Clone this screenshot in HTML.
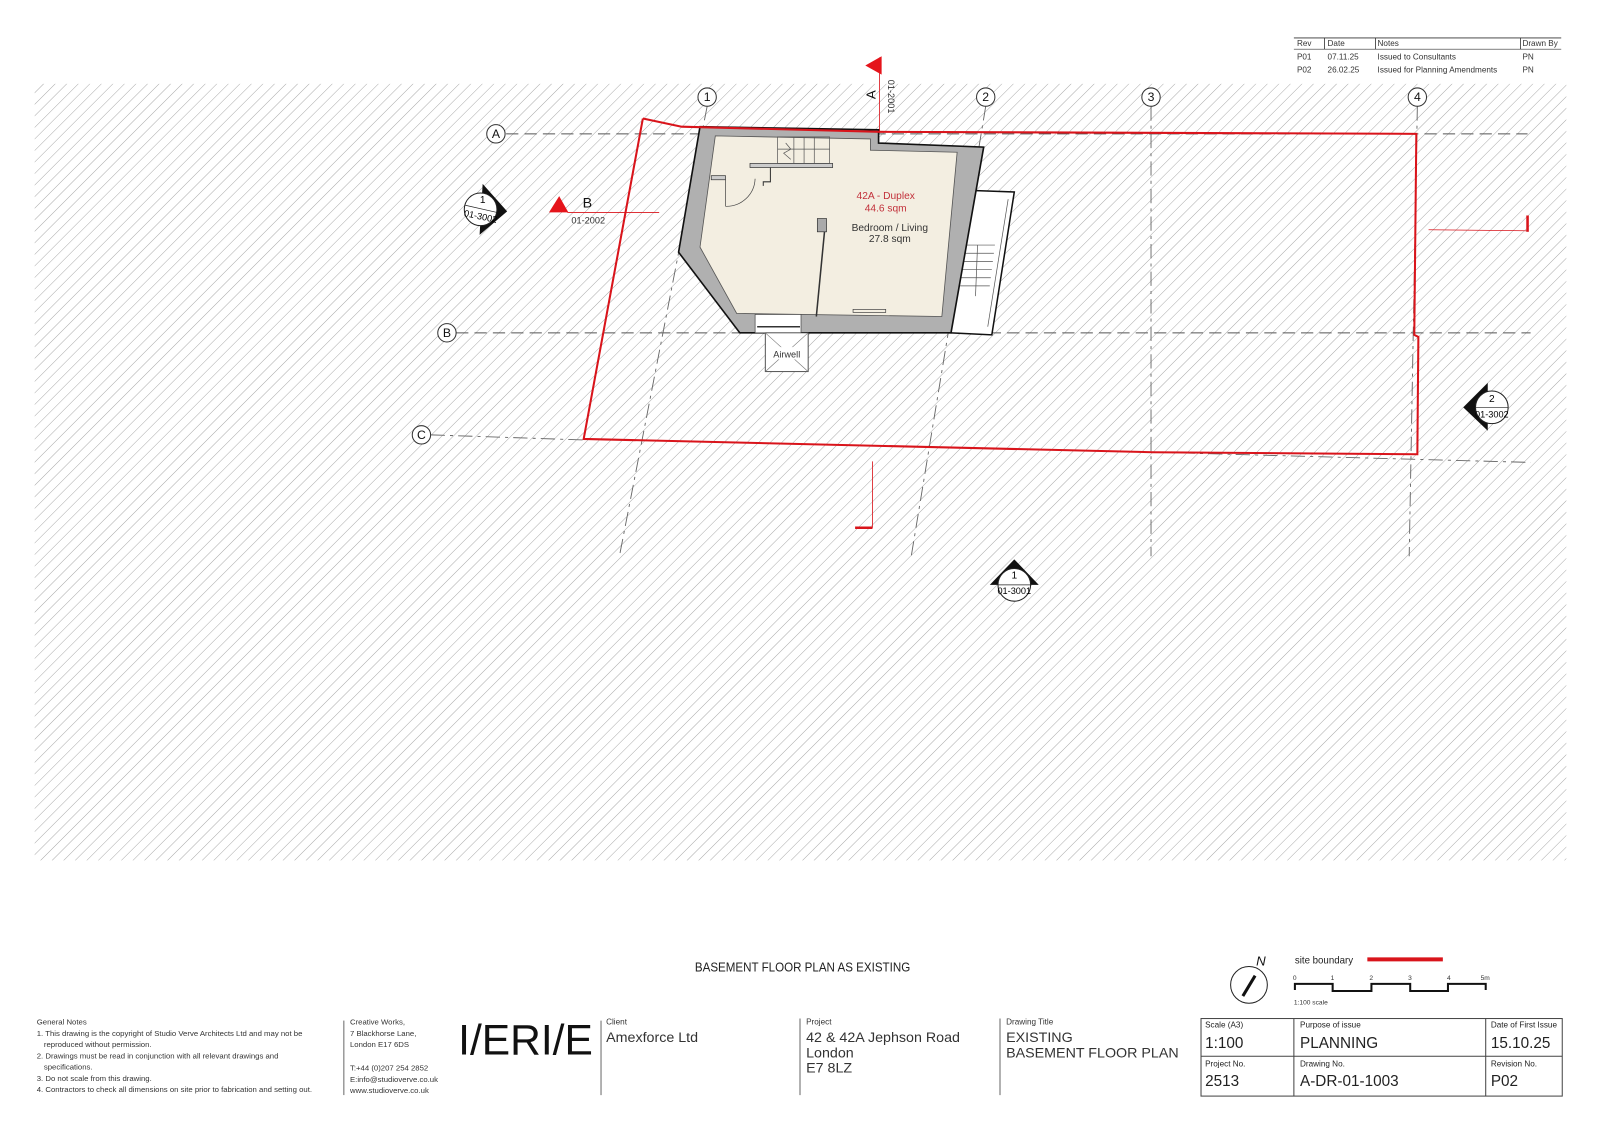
<!DOCTYPE html>
<html><head><meta charset="utf-8"><style>
html,body{margin:0;padding:0;background:#fff;}
svg{display:block;}
text{font-family:"Liberation Sans",sans-serif;}
.n{font-family:"Liberation Sans Narrow","Liberation Sans",sans-serif;}
</style></head><body>
<svg width="1600" height="1133" viewBox="0 0 1568 1110" xmlns="http://www.w3.org/2000/svg">
<defs>
<pattern id="h" width="8" height="8" patternUnits="userSpaceOnUse" patternTransform="rotate(45)">
<line x1="0" y1="0" x2="0" y2="8" stroke="#a2a2a2" stroke-width="0.9"/>
</pattern>
<clipPath id="c"><rect x="34" y="82" width="1501" height="761"/></clipPath>
</defs>
<rect x="34" y="82" width="1501" height="761" fill="url(#h)"/>

<g clip-path="url(#c)">
<g stroke="#555" stroke-width="1" stroke-dasharray="12,6" fill="none">
<line x1="496" y1="131" x2="1497" y2="131"/>
<line x1="447" y1="326" x2="1500" y2="326"/>
</g>
<g stroke="#666" stroke-width="0.9" stroke-dasharray="14,5,3,5" fill="none">
<line x1="422" y1="426" x2="572" y2="431"/>
<line x1="1130" y1="443" x2="1500" y2="453"/>
<line x1="693" y1="104" x2="607" y2="545"/>
<line x1="966" y1="104" x2="893" y2="545"/>
<line x1="1128" y1="104" x2="1128" y2="545"/>
<line x1="1389" y1="104" x2="1381" y2="545"/>
</g>
</g>
<g fill="#fff" stroke="#333" stroke-width="1">
<circle cx="693" cy="95" r="9"/><circle cx="966" cy="95" r="9"/><circle cx="1128" cy="95" r="9"/><circle cx="1389" cy="95" r="9"/>
<circle cx="486" cy="131" r="9"/><circle cx="438" cy="326" r="9"/><circle cx="413" cy="426" r="9"/>
</g>
<g font-size="12" text-anchor="middle" fill="#111">
<text x="693" y="99">1</text><text x="966" y="99">2</text><text x="1128" y="99">3</text><text x="1389" y="99">4</text>
<text x="486" y="135">A</text><text x="438" y="330">B</text><text x="413" y="430">C</text>
</g>

<polygon points="940,186 994,188 972,328 930,326" fill="#fff" stroke="#111" stroke-width="1.5"/>
<g stroke="#555" stroke-width="0.7" fill="none">
<line x1="988" y1="195" x2="968" y2="320"/>
<line x1="946" y1="240" x2="975" y2="240"/><line x1="945" y1="248" x2="974" y2="248"/><line x1="944" y1="256" x2="973" y2="256"/>
<line x1="943" y1="264" x2="972" y2="264"/><line x1="942" y1="272" x2="971" y2="272"/><line x1="941" y1="280" x2="970" y2="280"/>
<line x1="958" y1="240" x2="956" y2="290"/>
</g>
<polygon points="686,124 861,127 861,140 964,144 932,326 725,326 665,247" fill="#b0b0b0" stroke="#111" stroke-width="1.6"/>
<polygon points="701,133 853,136 853,147 938,149 923,310 722,307 686,242" fill="#f3eee1" stroke="#555" stroke-width="0.8"/>
<rect x="740" y="308" width="45" height="18" fill="#fff" stroke="#444" stroke-width="0.7"/>
<line x1="742" y1="320" x2="784" y2="320" stroke="#333" stroke-width="1.5"/>
<g stroke="#555" stroke-width="0.7" fill="none">
<rect x="762" y="134" width="51" height="26"/>
<line x1="778" y1="134" x2="778" y2="160"/><line x1="788" y1="134" x2="788" y2="160"/><line x1="798" y1="134" x2="798" y2="160"/>
<line x1="762" y1="146" x2="813" y2="146"/>
<polyline points="770,140 775,146 768,150 775,156"/>
</g>
<rect x="735" y="160" width="81" height="4" fill="#ccc" stroke="#333" stroke-width="0.7"/>
<polyline points="755,164 755,178 748,178 748,182" fill="none" stroke="#333" stroke-width="1"/>
<rect x="697" y="172" width="14" height="4" fill="#ccc" stroke="#333" stroke-width="0.7"/>
<path d="M711 202 A28 28 0 0 0 740 175" fill="none" stroke="#444" stroke-width="0.7"/>
<line x1="711" y1="176" x2="711" y2="202" stroke="#444" stroke-width="0.7"/>
<rect x="801" y="214" width="9" height="13" fill="#aaa" stroke="#333" stroke-width="0.7"/>
<line x1="808" y1="227" x2="800" y2="310" stroke="#333" stroke-width="1.5"/>
<rect x="836" y="303" width="32" height="3" fill="none" stroke="#444" stroke-width="0.7"/>
<rect x="750" y="326" width="42" height="38" fill="#fff" stroke="#444" stroke-width="0.9"/>
<line x1="750" y1="326" x2="792" y2="364" stroke="#777" stroke-width="0.6"/>
<line x1="792" y1="326" x2="750" y2="364" stroke="#777" stroke-width="0.6"/>
<rect x="756" y="340" width="30" height="12" fill="#fff"/>
<text class="n" x="771" y="350" font-size="9" text-anchor="middle" fill="#333">Airwell</text>

<text class="n" x="868" y="195" font-size="10" text-anchor="middle" fill="#c2303a">42A - Duplex</text>
<text class="n" x="868" y="207" font-size="10" text-anchor="middle" fill="#c2303a">44.6 sqm</text>
<text class="n" x="872" y="226" font-size="10" text-anchor="middle" fill="#333">Bedroom / Living</text>
<text class="n" x="872" y="237" font-size="10" text-anchor="middle" fill="#333">27.8 sqm</text>

<polyline points="630,116 668,124 862,129 1388,131 1386,328 1390,330 1389,445 1130,443 572,430 630,116" fill="none" stroke="#d9141b" stroke-width="2"/>

<line x1="862" y1="56" x2="862" y2="130" stroke="#d9141b" stroke-width="0.8"/>
<polygon points="848,64 864,55 864,73" fill="#e5141b"/>
<text x="858" y="97" font-size="13" transform="rotate(-90 858 97)" fill="#111">A</text>
<text class="n" x="870" y="78" font-size="9" transform="rotate(90 870 78)" fill="#333">01-2001</text>
<line x1="556" y1="208" x2="646" y2="208" stroke="#d9141b" stroke-width="0.8"/>
<polygon points="538,208 548,192 557,208" fill="#e5141b"/>
<text x="571" y="203" font-size="14" fill="#111">B</text>
<text class="n" x="560" y="219" font-size="9" fill="#333">01-2002</text>
<line x1="1400" y1="225" x2="1497" y2="226" stroke="#d9141b" stroke-width="0.8"/>
<line x1="1497" y1="211" x2="1497" y2="227" stroke="#d9141b" stroke-width="2.5"/>
<line x1="855" y1="452" x2="855" y2="517" stroke="#d9141b" stroke-width="0.8"/>
<line x1="838" y1="517" x2="855" y2="517" stroke="#d9141b" stroke-width="2.5"/>

<g>
<polygon points="473,180 497,207 470,230" fill="#111"/>
<circle cx="471" cy="205" r="16" fill="#fff" stroke="#222" stroke-width="1"/>
<line x1="456" y1="201" x2="487" y2="208" stroke="#222" stroke-width="0.7"/>
<text class="n" x="473" y="199" font-size="10" text-anchor="middle">1</text>
<text class="n" x="471" y="215" font-size="9" text-anchor="middle" transform="rotate(12 471 212)">01-3002</text>
</g>
<g>
<polygon points="1458,375 1434,399 1458,422" fill="#111"/>
<circle cx="1462" cy="399" r="16" fill="#fff" stroke="#222" stroke-width="1"/>
<line x1="1446" y1="399" x2="1478" y2="399" stroke="#222" stroke-width="0.7"/>
<text class="n" x="1462" y="394" font-size="10" text-anchor="middle">2</text>
<text class="n" x="1462" y="409" font-size="9" text-anchor="middle">01-3002</text>
</g>
<g>
<polygon points="970,573 994,548 1018,573" fill="#111"/>
<circle cx="994" cy="573" r="16" fill="#fff" stroke="#222" stroke-width="1"/>
<line x1="978" y1="573" x2="1010" y2="573" stroke="#222" stroke-width="0.7"/>
<text class="n" x="994" y="567" font-size="10" text-anchor="middle">1</text>
<text class="n" x="994" y="582" font-size="9" text-anchor="middle">01-3001</text>
</g>

<g font-size="8" fill="#333">
<line x1="1268" y1="37" x2="1530" y2="37" stroke="#333" stroke-width="0.8"/>
<line x1="1268" y1="48" x2="1530" y2="48" stroke="#333" stroke-width="0.6"/>
<line x1="1298" y1="37" x2="1298" y2="48" stroke="#333" stroke-width="0.8"/>
<line x1="1348" y1="37" x2="1348" y2="48" stroke="#333" stroke-width="0.8"/>
<line x1="1490" y1="37" x2="1490" y2="48" stroke="#333" stroke-width="0.8"/>
<text x="1271" y="45">Rev</text><text x="1301" y="45">Date</text><text x="1350" y="45">Notes</text><text x="1492" y="45">Drawn By</text>
<text x="1271" y="58">P01</text><text x="1301" y="58">07.11.25</text><text x="1350" y="58">Issued to Consultants</text><text x="1492" y="58">PN</text>
<text x="1271" y="71">P02</text><text x="1301" y="71">26.02.25</text><text x="1350" y="71">Issued for Planning Amendments</text><text x="1492" y="71">PN</text>
</g>

<text class="n" x="681" y="952" font-size="13" fill="#222" textLength="211" lengthAdjust="spacingAndGlyphs">BASEMENT FLOOR PLAN AS EXISTING</text>

<circle cx="1224" cy="965" r="18" fill="none" stroke="#222" stroke-width="1"/>
<line x1="1218" y1="976" x2="1230" y2="956" stroke="#111" stroke-width="3"/>
<text x="1231" y="946" font-size="13" font-style="italic" fill="#111">N</text>
<text x="1269" y="944" font-size="9.5" fill="#222">site boundary</text>
<line x1="1340" y1="940" x2="1414" y2="940" stroke="#d9141b" stroke-width="4"/>
<g font-size="6.5" fill="#333">
<text x="1267" y="960">0</text><text x="1304" y="960">1</text><text x="1342" y="960">2</text><text x="1380" y="960">3</text><text x="1418" y="960">4</text><text x="1451" y="960">5m</text>
<text x="1268" y="984">1:100 scale</text>
</g>
<polyline points="1269,970 1269,964 1306,964 1306,971 1344,971 1344,964 1382,964 1382,971 1419,971 1419,964 1456,964 1456,970" fill="none" stroke="#111" stroke-width="2"/>

<g stroke="#444" stroke-width="1" fill="none">
<rect x="1177" y="998" width="354" height="76"/>
<line x1="1177" y1="1035" x2="1531" y2="1035"/>
<line x1="1268" y1="998" x2="1268" y2="1074"/>
<line x1="1456" y1="998" x2="1456" y2="1074"/>
</g>
<g fill="#222">
<text x="1181" y="1007" font-size="8">Scale (A3)</text>
<text x="1274" y="1007" font-size="8">Purpose of issue</text>
<text x="1461" y="1007" font-size="8">Date of First Issue</text>
<text x="1181" y="1027" font-size="15">1:100</text>
<text x="1274" y="1027" font-size="15">PLANNING</text>
<text x="1461" y="1027" font-size="15">15.10.25</text>
<text x="1181" y="1045" font-size="8">Project No.</text>
<text x="1274" y="1045" font-size="8">Drawing No.</text>
<text x="1461" y="1045" font-size="8">Revision No.</text>
<text x="1181" y="1064" font-size="15">2513</text>
<text x="1274" y="1064" font-size="15">A-DR-01-1003</text>
<text x="1461" y="1064" font-size="15">P02</text>
</g>

<g font-size="7.6" fill="#333">
<text x="36" y="1004">General Notes</text>
<text x="36" y="1015">1. This drawing is the copyright of Studio Verve Architects Ltd and may not be</text>
<text x="43" y="1026">reproduced without permission.</text>
<text x="36" y="1037">2. Drawings must be read in conjunction with all relevant drawings and</text>
<text x="43" y="1048">specifications.</text>
<text x="36" y="1059">3. Do not scale from this drawing.</text>
<text x="36" y="1070">4. Contractors to check all dimensions on site prior to fabrication and setting out.</text>
<text x="343" y="1004">Creative Works,</text>
<text x="343" y="1015">7 Blackhorse Lane,</text>
<text x="343" y="1026">London E17 6DS</text>
<text x="343" y="1049">T:+44 (0)207 254 2852</text>
<text x="343" y="1060">E:info@studioverve.co.uk</text>
<text x="343" y="1071">www.studioverve.co.uk</text>
</g>
<g stroke="#444" stroke-width="0.8">
<line x1="337" y1="1000" x2="337" y2="1073"/>
<line x1="589" y1="1000" x2="589" y2="1073"/>
<line x1="784" y1="998" x2="784" y2="1073"/>
<line x1="980" y1="998" x2="980" y2="1073"/>
</g>
<text x="449" y="1033" font-size="42" fill="#111" textLength="132" lengthAdjust="spacingAndGlyphs">I/ERI/E</text>
<g fill="#333">
<text x="594" y="1004" font-size="8">Client</text>
<text x="594" y="1021" font-size="14">Amexforce Ltd</text>
<text x="790" y="1004" font-size="8">Project</text>
<text x="790" y="1021" font-size="14">42 &amp; 42A Jephson Road</text>
<text x="790" y="1036" font-size="14">London</text>
<text x="790" y="1051" font-size="14">E7 8LZ</text>
<text x="986" y="1004" font-size="8">Drawing Title</text>
<text x="986" y="1021" font-size="14">EXISTING</text>
<text x="986" y="1036" font-size="14">BASEMENT FLOOR PLAN</text>
</g>
</svg>
</body></html>
